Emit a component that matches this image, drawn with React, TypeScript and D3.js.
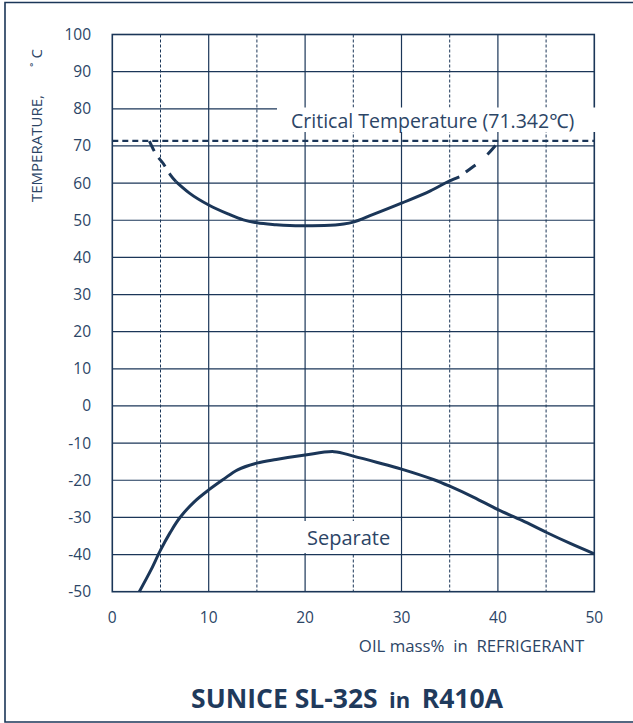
import React from "react";
import * as d3 from "d3";

const xTicks = [0, 10, 20, 30, 40, 50];
const yTicks = [100, 90, 80, 70, 60, 50, 40, 30, 20, 10, 0, -10, -20, -30, -40, -50];
const xSolidGrid = [10, 20, 30, 40];
const xDashedGrid = [5, 15, 25, 35, 45];
const yGrid = [90, 80, 70, 60, 50, 40, 30, 20, 10, 0, -10, -20, -30, -40];
const criticalTemp = 71.342;

// upper (cloud point) curve: dashed left part, solid middle, dashed right part
const upperLeftDashed: [number, number][] = [
  [3.85, 71.3], [4.5, 67.9], [5.3, 65.2], [6.0, 62.3], [6.6, 60.4],
];
const upperSolid: [number, number][] = [
  [6.6, 60.4], [8, 57.3], [10, 54.1], [12, 51.7], [13.6, 50.1], [15, 49.3],
  [17, 48.8], [19.5, 48.5], [22, 48.6], [24, 49.0], [25, 49.5], [27, 51.5],
  [30, 54.6], [33, 57.9], [35, 60.6], [36, 61.7],
];
const upperRightDashed: [number, number][] = [
  [36, 61.7], [37, 63.6], [38.5, 66.6], [40.1, 71.2],
];
// lower (separation) curve
const lowerCurve: [number, number][] = [
  [2.8, -50], [4, -44.2], [5, -38.8], [6, -34.1], [7, -30.1],
  [8.5, -25.8], [10, -22.6], [11.5, -19.8], [13, -17.2], [15, -15.4],
  [17, -14.4], [20, -13.2], [23, -12.3],
  [25, -13.5], [27.5, -15.2], [30, -17], [33.3, -19.8], [35, -21.6],
  [37.5, -24.6], [40, -27.9], [42.5, -30.8], [45, -34], [47.5, -37], [50, -39.8],
];

const NAVY = "#1b3658";
const TEXT = "#2c4566";
const FONT = "'Open Sans', 'Noto Sans', sans-serif";

export default function App() {
  const x = d3.scaleLinear().domain([0, 50]).range([112.3, 594.3]);
  const y = d3.scaleLinear().domain([-50, 100]).range([591.7, 34.5]);
  const line = d3
    .line<[number, number]>()
    .x((d) => x(d[0]))
    .y((d) => y(d[1]))
    .curve(d3.curveMonotoneX);
  const smooth = d3
    .line<[number, number]>()
    .x((d) => x(d[0]))
    .y((d) => y(d[1]))
    .curve(d3.curveCatmullRom.alpha(0.5));

  return (
    <svg
      width={633}
      height={723}
      style={{ position: "absolute", left: 0, top: 0, background: "#fff", display: "block" }}
    >
      {/* outer frame (right edge lies outside the view) */}
      <path d="M633,2.5 H5 V722 H633" fill="none" stroke={NAVY} strokeWidth={1.6} />

      {/* grid */}
      {yGrid.map((v) => (
        <line key={"h" + v} x1={x(0)} x2={x(50)} y1={y(v)} y2={y(v)} stroke={NAVY} strokeWidth={1.2} />
      ))}
      {xSolidGrid.map((v) => (
        <line key={"vs" + v} x1={x(v)} x2={x(v)} y1={y(100)} y2={y(-50)} stroke={NAVY} strokeWidth={1.2} />
      ))}
      {xDashedGrid.map((v) => (
        <line key={"vd" + v} x1={x(v)} x2={x(v)} y1={y(100)} y2={y(-50)} stroke={NAVY} strokeWidth={1} strokeDasharray="3,2" />
      ))}
      <rect x={x(0)} y={y(100)} width={x(50) - x(0)} height={y(-50) - y(100)} fill="none" stroke={NAVY} strokeWidth={1.6} />

      {/* label boxes */}
      <rect x={277} y={107.5} width={319} height={24.5} fill="#fff" />
      <text x={291} y={128} fontFamily={FONT} fontSize={19.5} fill={TEXT}>
        Critical Temperature (71.342℃)
      </text>
      <rect x={303.5} y={521} width={97} height={32} fill="#fff" />
      <text x={307} y={545} fontFamily={FONT} fontSize={20} fill={TEXT}>
        Separate
      </text>

      {/* critical temperature line */}
      <line x1={x(0)} x2={x(50)} y1={y(criticalTemp)} y2={y(criticalTemp)} stroke={NAVY} strokeWidth={2.2} strokeDasharray="6,4" />

      {/* curves */}
      <path d={line(upperLeftDashed) ?? ""} fill="none" stroke={NAVY} strokeWidth={3} strokeDasharray="11,8" />
      <path d={line(upperSolid) ?? ""} fill="none" stroke={NAVY} strokeWidth={3} />
      <path d={line(upperRightDashed) ?? ""} fill="none" stroke={NAVY} strokeWidth={3} strokeDasharray="0,8,12,8" />
      <path d={smooth(lowerCurve) ?? ""} fill="none" stroke={NAVY} strokeWidth={3} />

      {/* y tick labels */}
      {yTicks.map((v) => (
        <text key={"yt" + v} x={91} y={y(v)} dy="0.35em" textAnchor="end" fontFamily={FONT} fontSize={15.5} fill={TEXT}>
          {v}
        </text>
      ))}
      {/* x tick labels */}
      {xTicks.map((v) => (
        <text key={"xt" + v} x={x(v)} y={623} textAnchor="middle" fontFamily={FONT} fontSize={15.5} fill={TEXT}>
          {v}
        </text>
      ))}

      {/* axis titles */}
      <text transform="translate(41.5,202) rotate(-90)" textAnchor="start" fontFamily={FONT} fontSize={15} fill={TEXT}>
        TEMPERATURE,
      </text>
      <text transform="translate(41.5,67) rotate(-90)" textAnchor="start" fontFamily={FONT} fontSize={15} fill={TEXT}>
        ˚
      </text>
      <text transform="translate(41.5,58.5) rotate(-90)" textAnchor="start" fontFamily={FONT} fontSize={15} fill={TEXT}>
        C
      </text>
      <text x={471.5} y={652} textAnchor="middle" fontFamily={FONT} fontSize={16.8} fill={TEXT} style={{ whiteSpace: "pre" }}>
        {"OIL mass%  in  REFRIGERANT"}
      </text>

      {/* title */}
      <text x={347} y={708} textAnchor="middle" fontFamily={FONT} fontWeight="bold" fill="#1f3a5c" style={{ whiteSpace: "pre" }}>
        <tspan fontSize={26.5}>SUNICE SL-32S</tspan>
        <tspan fontSize={22}>{"  in  "}</tspan>
        <tspan fontSize={26.5}>R410A</tspan>
      </text>
    </svg>
  );
}
